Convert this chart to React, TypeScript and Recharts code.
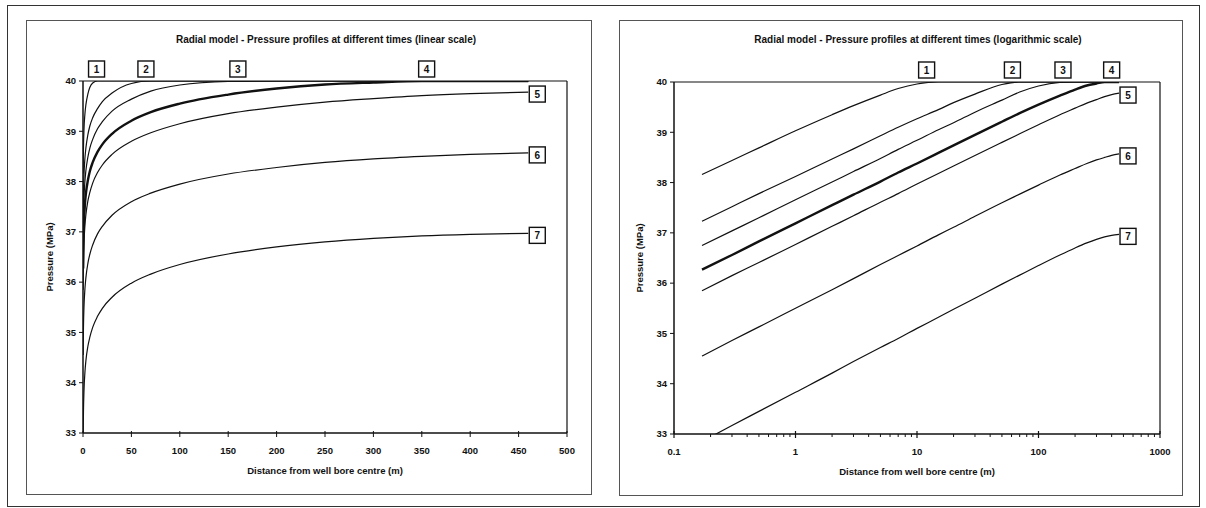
import React from 'react';
import { LineChart, Line, XAxis, YAxis, ReferenceLine, ReferenceDot } from 'recharts';

// distance from well bore centre (m)
const RADIUS = [0.17, 0.3, 0.5, 1, 2, 3, 5, 7, 10, 15, 20, 30, 50, 70, 100, 150, 200, 250, 300, 350, 400, 460];

// pressure (MPa) per profile
const P1 = [38.16, 38.44, 38.69, 39.03, 39.35, 39.53, 39.74, 39.87, 39.96, 40, 40, 40, 40, 40, 40, 40, 40, 40, 40, 40, 40, 40];
const P2 = [37.23, 37.52, 37.78, 38.12, 38.47, 38.67, 38.93, 39.1, 39.27, 39.45, 39.59, 39.76, 39.95, 40, 40, 40, 40, 40, 40, 40, 40, 40];
const P3 = [36.75, 37.04, 37.3, 37.66, 38.01, 38.22, 38.48, 38.66, 38.84, 39.05, 39.19, 39.4, 39.64, 39.8, 39.92, 39.99, 40, 40, 40, 40, 40, 40];
const P4 = [36.27, 36.56, 36.83, 37.19, 37.55, 37.76, 38.02, 38.2, 38.38, 38.59, 38.74, 38.95, 39.21, 39.38, 39.55, 39.73, 39.85, 39.93, 39.97, 40, 40, 40];
const P5 = [35.85, 36.15, 36.41, 36.77, 37.13, 37.34, 37.61, 37.78, 37.97, 38.18, 38.33, 38.54, 38.8, 38.97, 39.15, 39.35, 39.48, 39.58, 39.65, 39.71, 39.75, 39.78];
const P6 = [34.55, 34.86, 35.13, 35.5, 35.87, 36.09, 36.37, 36.55, 36.74, 36.96, 37.11, 37.33, 37.6, 37.77, 37.95, 38.15, 38.28, 38.38, 38.45, 38.5, 38.54, 38.57];
const P7 = [32.85, 33.17, 33.45, 33.83, 34.21, 34.44, 34.72, 34.9, 35.1, 35.32, 35.48, 35.7, 35.98, 36.16, 36.35, 36.56, 36.7, 36.8, 36.87, 36.92, 36.95, 36.97];

const PROFILES = [P1, P2, P3, P4, P5, P6, P7];
const PROFILE_NAMES = ['1', '2', '3', '4', '5', '6', '7'];

const PRESSURE_TICKS = [33, 34, 35, 36, 37, 38, 39, 40];
const LIN_TICKS = [0, 50, 100, 150, 200, 250, 300, 350, 400, 450, 500];
const LOG_TICKS = [
  0.1, 0.2, 0.3, 0.4, 0.5, 0.6, 0.7, 0.8, 0.9,
  1, 2, 3, 4, 5, 6, 7, 8, 9,
  10, 20, 30, 40, 50, 60, 70, 80, 90,
  100, 200, 300, 400, 500, 600, 700, 800, 900, 1000,
];
const LOG_MAJOR = [0.1, 1, 10, 100, 1000];

// where profiles 1-4 reach 40 MPa (label positions)
const LIN_TOP_X = [14, 65, 160, 355];
const LOG_TOP_X = [12, 61, 159, 400];

const rows = RADIUS.map((r, i) => {
  const row: Record<string, number> = { r };
  PROFILES.forEach((p, k) => {
    row['c' + (k + 1)] = p[i];
  });
  return row;
});

const FONT = '"Liberation Sans", Arial, sans-serif';
const INK = '#111';

function Tag({ cx, cy, text, side }: { cx: number; cy: number; text: string; side: 'top' | 'right' }) {
  const x = side === 'top' ? cx - 8 : cx + 1;
  const y = side === 'top' ? cy - 20 : cy - 6;
  return (
    <g>
      <rect x={x} y={y} width={16} height={16} fill="#fff" stroke={INK} strokeWidth={1.4} />
      <text x={x + 8} y={y + 12} textAnchor="middle" fontSize={10} fontWeight="bold" fontFamily={FONT} fill={INK}>
        {text}
      </text>
    </g>
  );
}

const YTick = (props: any) => {
  const { x, y, payload } = props;
  return (
    <g>
      <line x1={x - 4} x2={x} y1={y} y2={y} stroke={INK} />
      <text x={x - 7} y={y} dy="0.35em" textAnchor="end" fontSize={9.5} fontWeight="bold" fontFamily={FONT} fill={INK}>
        {payload.value}
      </text>
    </g>
  );
};

const LinTick = (props: any) => {
  const { x, y, payload } = props;
  return (
    <g>
      <line x1={x} x2={x} y1={y - 2} y2={y + 4} stroke={INK} />
      <text x={x} y={y + 21} textAnchor="middle" fontSize={9.5} fontWeight="bold" fontFamily={FONT} fill={INK}>
        {payload.value}
      </text>
    </g>
  );
};

const LogTick = (props: any) => {
  const { x, y, payload } = props;
  const major = LOG_MAJOR.includes(payload.value);
  return (
    <g>
      <line x1={x} x2={x} y1={major ? y - 3 : y} y2={major ? y + 4 : y + 3} stroke={INK} strokeWidth={major ? 1.2 : 1} />
      {major && (
        <text x={x} y={y + 21} textAnchor="middle" fontSize={9.5} fontWeight="bold" fontFamily={FONT} fill={INK}>
          {payload.value}
        </text>
      )}
    </g>
  );
};

function Panel({ log }: { log: boolean }) {
  const width = log ? 564 : 566;
  const height = log ? 476 : 475;
  const margin = log ? { top: 62, right: 23, left: 0, bottom: 0 } : { top: 61, right: 25, left: 0, bottom: 0 };
  const yw = log ? 55 : 57;
  const topX = log ? LOG_TOP_X : LIN_TOP_X;
  const endX = RADIUS[RADIUS.length - 1];
  const title = log
    ? 'Radial model - Pressure profiles at different times (logarithmic scale)'
    : 'Radial model - Pressure profiles at different times (linear scale)';

  return (
    <div style={{ position: 'absolute', left: log ? 619 : 26, top: 20, width, height, border: '1px solid #555', boxSizing: 'border-box' }}>
      <div
        style={{
          position: 'absolute', left: yw, width: width - yw - margin.right, top: 13,
          textAlign: 'center', fontFamily: FONT, fontWeight: 'bold', fontSize: 10, color: INK,
        }}
      >
        {title}
      </div>
      <div style={{ position: 'absolute', left: -1, top: -1 }}>
        <LineChart width={width} height={height} data={rows} margin={margin}>
          <XAxis
            dataKey="r"
            type="number"
            scale={log ? 'log' : 'linear'}
            domain={log ? [0.1, 1000] : [0, 500]}
            ticks={log ? LOG_TICKS : LIN_TICKS}
            interval={0}
            allowDataOverflow
            height={62}
            tickSize={0}
            tickMargin={0}
            tickLine={false}
            tick={log ? <LogTick /> : <LinTick />}
            axisLine={{ stroke: INK, strokeWidth: 1.5 }}
            label={{
              content: (p: any) => {
                const vb = p.viewBox;
                return (
                  <text x={vb.x + vb.width / 2} y={vb.y + 41} textAnchor="middle" fontSize={9.5} fontWeight="bold" fontFamily={FONT} fill={INK}>
                    Distance from well bore centre (m)
                  </text>
                );
              },
            }}
          />
          <YAxis
            type="number"
            domain={[33, 40]}
            ticks={PRESSURE_TICKS}
            interval={0}
            allowDataOverflow
            width={yw}
            tickSize={0}
            tickMargin={0}
            tickLine={false}
            tick={<YTick />}
            axisLine={{ stroke: INK, strokeWidth: 1.5 }}
            label={{
              content: (p: any) => {
                const vb = p.viewBox;
                const cx = vb.x + (log ? 21 : 24);
                const cy = vb.y + vb.height / 2;
                return (
                  <text x={cx} y={cy} transform={`rotate(-90 ${cx} ${cy})`} textAnchor="middle" dy="0.35em" fontSize={9.5} fontWeight="bold" fontFamily={FONT} fill={INK}>
                    Pressure (MPa)
                  </text>
                );
              },
            }}
          />
          <ReferenceLine y={40} stroke={INK} strokeWidth={1.2} />
          <ReferenceLine x={log ? 1000 : 500} stroke={INK} strokeWidth={1.2} />
          {PROFILES.map((_, k) => (
            <Line
              key={k}
              dataKey={'c' + (k + 1)}
              type="monotone"
              stroke={INK}
              strokeWidth={k === 3 ? 2.4 : 1.2}
              dot={false}
              isAnimationActive={false}
            />
          ))}
          {topX.map((x, k) => (
            <ReferenceDot
              key={'t' + k}
              x={x}
              y={40}
              r={0}
              ifOverflow="visible"
              shape={(p: any) => <Tag cx={p.cx} cy={p.cy} text={PROFILE_NAMES[k]} side="top" />}
            />
          ))}
          {[4, 5, 6].map((k) => (
            <ReferenceDot
              key={'e' + k}
              x={endX}
              y={PROFILES[k][PROFILES[k].length - 1]}
              r={0}
              ifOverflow="visible"
              shape={(p: any) => <Tag cx={p.cx} cy={p.cy} text={PROFILE_NAMES[k]} side="right" />}
            />
          ))}
        </LineChart>
      </div>
    </div>
  );
}

export default function App() {
  return (
    <div style={{ position: 'absolute', left: 0, top: 0, width: 1206, height: 508, background: '#fff' }}>
      <div style={{ position: 'absolute', left: 7, top: 5, width: 1193, height: 502, border: '1px solid #333', boxSizing: 'border-box' }} />
      <Panel log={false} />
      <Panel log />
    </div>
  );
}
